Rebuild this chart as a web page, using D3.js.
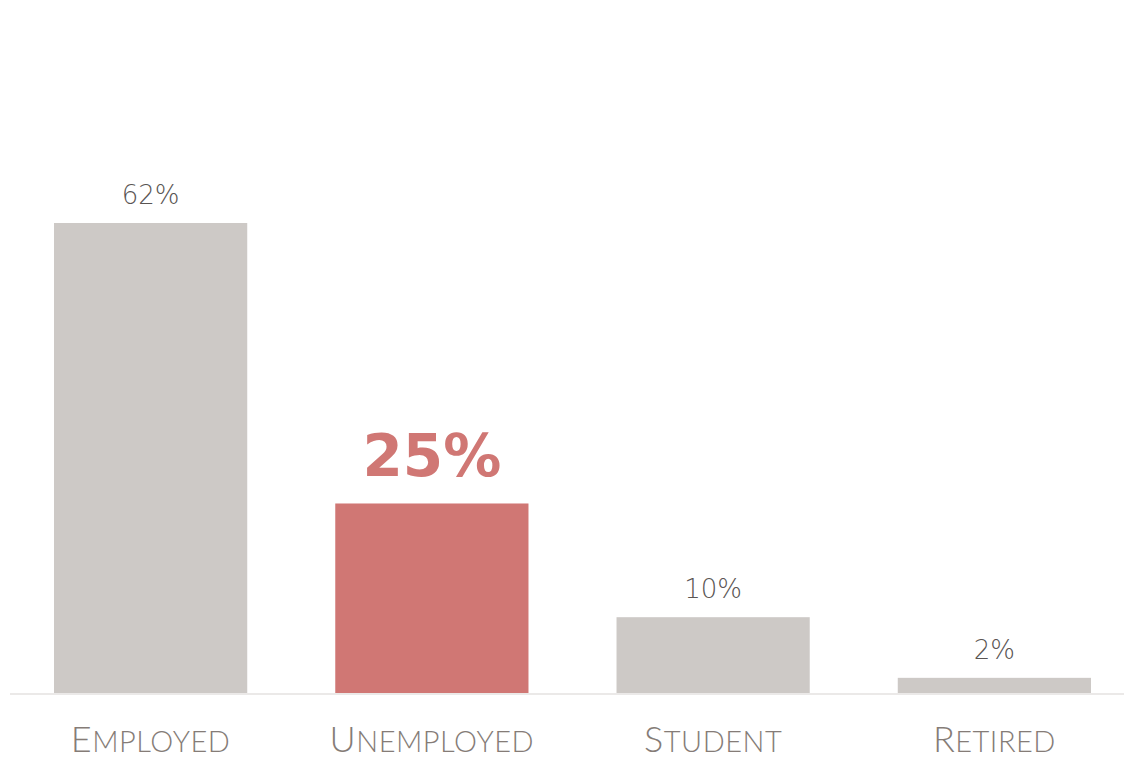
<!DOCTYPE html>
<html>
<head>
<meta charset="utf-8">
<script src="https://cdn.jsdelivr.net/npm/d3@7"></script>
<style>
  body { margin: 0; background: #fff; }
</style>
</head>
<body>
<div id="chart"></div>
<script>
var width = 1124
var height = 760

// data
var categories = ["Employed", "Unemployed", "Student", "Retired"]
var values = [62, 25, 10, 2]
var highlight = "Unemployed"

var baseY = 693

var svg = d3.select("#chart")
  .append("svg")
    .attr("width", width)
    .attr("height", height)

var xScale = d3.scaleBand()
  .domain(categories)
  .range([10, 1135])
  .paddingInner(0.313)
  .paddingOuter(0.1565)

var yScale = d3.scaleLinear()
  .domain([0, 62])
  .range([baseY, 223])

var data = categories.map((c, i) => ({cat: c, val: values[i]}))

svg.selectAll("rect").data(data)
  .enter().append("rect")
    .attr("x", d => xScale(d.cat))
    .attr("y", d => yScale(d.val))
    .attr("width", xScale.bandwidth())
    .attr("height", d => baseY - yScale(d.val))
    .attr("fill", d => d.cat === highlight ? "#d07774" : "#cdc9c6")

// baseline
svg.append("line")
    .attr("x1", 10)
    .attr("x2", width)
    .attr("y1", baseY + 1)
    .attr("y2", baseY + 1)
    .attr("stroke", "#ebe9e8")
    .attr("stroke-width", 2)

// value labels
svg.selectAll(".val").data(data)
  .enter().append("text")
    .attr("class", "val")
    .attr("x", d => xScale(d.cat) + xScale.bandwidth() / 2)
    .attr("y", d => yScale(d.val) - (d.cat === highlight ? 27 : 19))
    .attr("text-anchor", "middle")
    .attr("font-family", "'DejaVu Sans', sans-serif")
    .attr("font-weight", d => d.cat === highlight ? 700 : 300)
    .attr("font-size", d => d.cat === highlight ? 58 : 26)
    .attr("fill", d => d.cat === highlight ? "#d07774" : "#5a5553")
    .text(d => d.val + "%")

// category labels, drawn as small caps: big first letter, smaller rest
var cat = svg.selectAll(".cat").data(data)
  .enter().append("text")
    .attr("class", "cat")
    .attr("x", d => xScale(d.cat) + xScale.bandwidth() / 2)
    .attr("y", 752)
    .attr("text-anchor", "middle")
    .attr("font-family", "Lato, sans-serif")
    .attr("font-weight", 300)
    .attr("letter-spacing", 0.5)
    .attr("fill", "#857c77")

cat.append("tspan")
    .attr("font-size", 36)
    .text(d => d.cat[0].toUpperCase())
cat.append("tspan")
    .attr("font-size", 29)
    .text(d => d.cat.slice(1).toUpperCase())
</script>
</body>
</html>
